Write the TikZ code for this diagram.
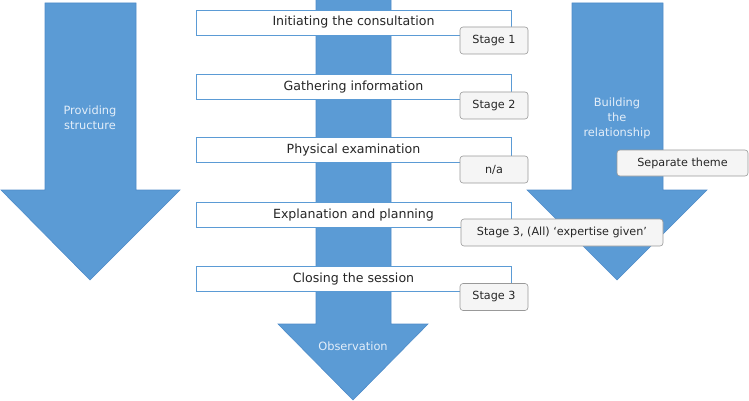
\documentclass[tikz,border=0pt]{standalone}
\usepackage{fontspec}
\setmainfont{DejaVu Sans}
\begin{document}
\begin{tikzpicture}[x=1pt,y=-1pt,
  bigarrow/.style={fill=arrowblue,draw=arrowedge,line width=0.6pt},
  bar/.style={draw=arrowblue,fill=white,line width=0.6pt,minimum width=315pt,minimum height=25pt,inner sep=0pt,text=textgray,font=\fontsize{12.6}{14}\selectfont},
  stagebox/.style={draw=gray!80,fill=gray!8,rounded corners=3pt,line width=0.6pt,minimum height=27pt,inner sep=0pt,text=textgray,font=\fontsize{11.2}{13}\selectfont},
  arrowlabel/.style={text=labelblue,align=center,font=\fontsize{11.4}{15}\selectfont}
]
\definecolor{arrowblue}{HTML}{5B9BD5}
\definecolor{arrowedge}{HTML}{4F8CC9}
\definecolor{labelblue}{HTML}{E3EEF9}
\definecolor{textgray}{HTML}{262626}
\useasboundingbox (0,0) rectangle (749,401);
% left arrow
\draw[bigarrow] (45,3) -- (136,3) -- (136,190) -- (180,190) -- (90,280) -- (1,190) -- (45,190) -- cycle;
% right arrow
\draw[bigarrow] (572,3) -- (663,3) -- (663,190) -- (707,190) -- (617,280) -- (527,190) -- (572,190) -- cycle;
% center arrow
\draw[bigarrow] (316,-2) -- (391,-2) -- (391,324) -- (428,324) -- (353,400) -- (278,324) -- (316,324) -- cycle;
\node[arrowlabel] (ps) at (90,118) {Providing\\structure};
\node[arrowlabel] (br) at (617,118) {Building\\the\\relationship};
\node[arrowlabel] (obs) at (353,346) {Observation};
% bars
\node[bar] (b1) at (353.5,22.5) {Initiating the consultation};
\node[bar] (b2) at (353.5,87) {Gathering information};
\node[bar] (b3) at (353.5,150) {Physical examination};
\node[bar] (b4) at (353.5,215) {Explanation and planning};
\node[bar] (b5) at (353.5,279) {Closing the session};
% stage boxes
\node[stagebox,minimum width=68pt] (s1) at (494,40.5) {Stage 1};
\node[stagebox,minimum width=68pt] (s2) at (494,105.5) {Stage 2};
\node[stagebox,minimum width=68pt] (s3) at (494,169.5) {n/a};
\node[stagebox,minimum width=202pt] (s4) at (562,232.5) {Stage 3, (All) ‘expertise given’};
\node[stagebox,minimum width=68pt] (s5) at (494,297) {Stage 3};
\node[stagebox,minimum width=131pt,minimum height=26pt] (st) at (682.5,163) {Separate theme};
\end{tikzpicture}
\end{document}
